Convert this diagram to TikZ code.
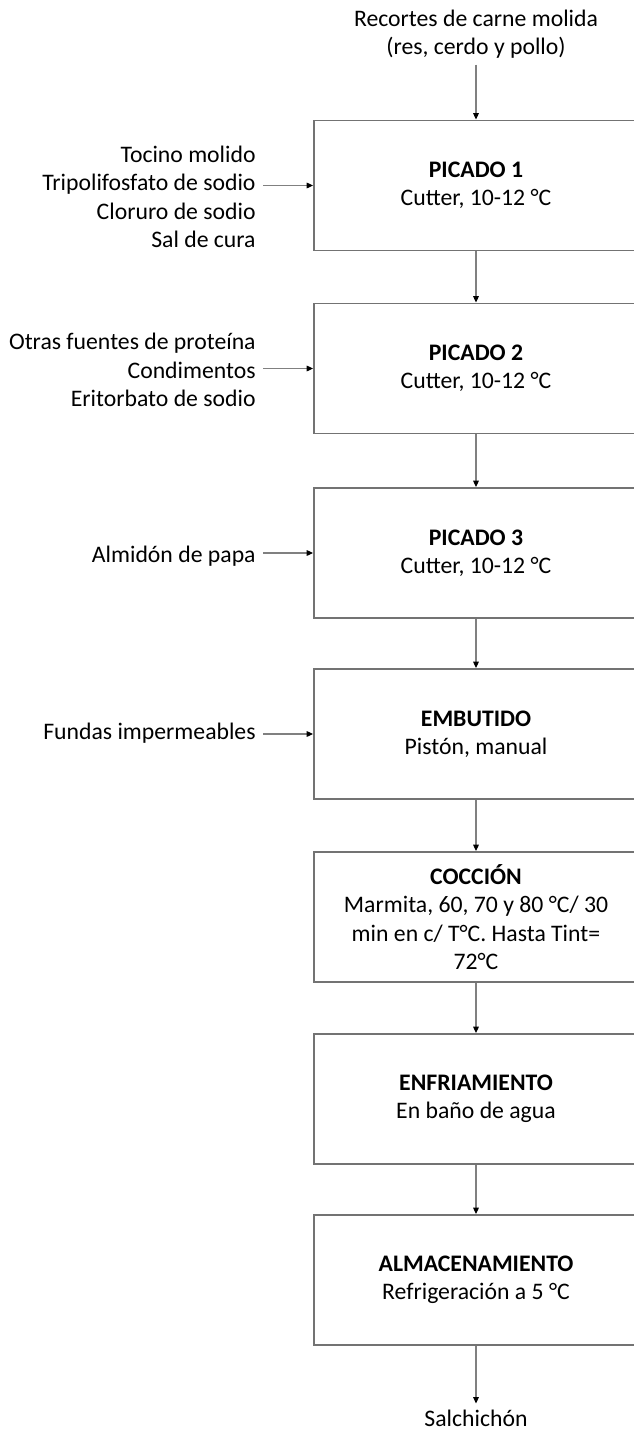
\documentclass[tikz,border=0pt]{standalone}
\usepackage{fontspec}
\setmainfont{Carlito}
\usepackage{tikz}
\usetikzlibrary{arrows.meta}

\begin{document}
\begin{tikzpicture}[x=0.02cm,y=-0.02cm,
  font=\fontsize{13.5}{16.2}\selectfont,
  etapa/.style={draw=black!55,line width=1.1pt,align=center,minimum width=6.48cm,minimum height=2.6cm},
  entrada/.style={align=right,anchor=east,inner xsep=4pt},
  flecha/.style={draw=black!50,line width=0.6pt,-{Triangle[length=3.6pt,width=3.2pt,black]}}]

\useasboundingbox (0,0) rectangle (634,1430);
\clip (0,0) rectangle (634,1430);

%process steps
\node[etapa] (p1) at (476,185.5) {\textbf{PICADO 1}\\Cutter, 10-12 °C};
\node[etapa] (p2) at (476,368.5) {\textbf{PICADO 2}\\Cutter, 10-12 °C};
\node[etapa] (p3) at (476,553) {\textbf{PICADO 3}\\Cutter, 10-12 °C};
\node[etapa] (emb) at (476,734) {\textbf{EMBUTIDO}\\Pistón, manual};
\node[etapa] (coc) at (476,917) {\textbf{COCCIÓN}\\Marmita, 60, 70 y 80 °C/ 30\\min en c/ T°C. Hasta Tint=\\72°C};
\node[etapa] (enf) at (476,1099) {\textbf{ENFRIAMIENTO}\\En baño de agua};
\node[etapa] (alm) at (476,1280) {\textbf{ALMACENAMIENTO}\\Refrigeración a 5 °C};

%raw material and product
\node[align=center] (rec) at (476,34) {Recortes de carne molida\\(res, cerdo y pollo)};
\node (sal) at (476,1418) {Salchichón};

%ingredients on the left
\node[entrada] (in1) at (263,197) {Tocino molido\\Tripolifosfato de sodio\\Cloruro de sodio\\Sal de cura};
\node[entrada] (in2) at (263,370) {Otras fuentes de proteína\\Condimentos\\Eritorbato de sodio};
\node[entrada] (in3) at (263,556) {Almidón de papa};
\node[entrada] (in4) at (263,733) {Fundas impermeables};

%main flow
\draw[flecha] (rec) -- (p1);
\draw[flecha] (p1) -- (p2);
\draw[flecha] (p2) -- (p3);
\draw[flecha] (p3) -- (emb);
\draw[flecha] (emb) -- (coc);
\draw[flecha] (coc) -- (enf);
\draw[flecha] (enf) -- (alm);
\draw[flecha] (alm) -- (sal);

%side inputs
\draw[flecha] (in1.east |- p1.west) -- (p1.west);
\draw[flecha] (in2.east |- p2.west) -- (p2.west);
\draw[flecha] (in3.east |- p3.west) -- (p3.west);
\draw[flecha] (in4.east |- emb.west) -- (emb.west);

\end{tikzpicture}
\end{document}
